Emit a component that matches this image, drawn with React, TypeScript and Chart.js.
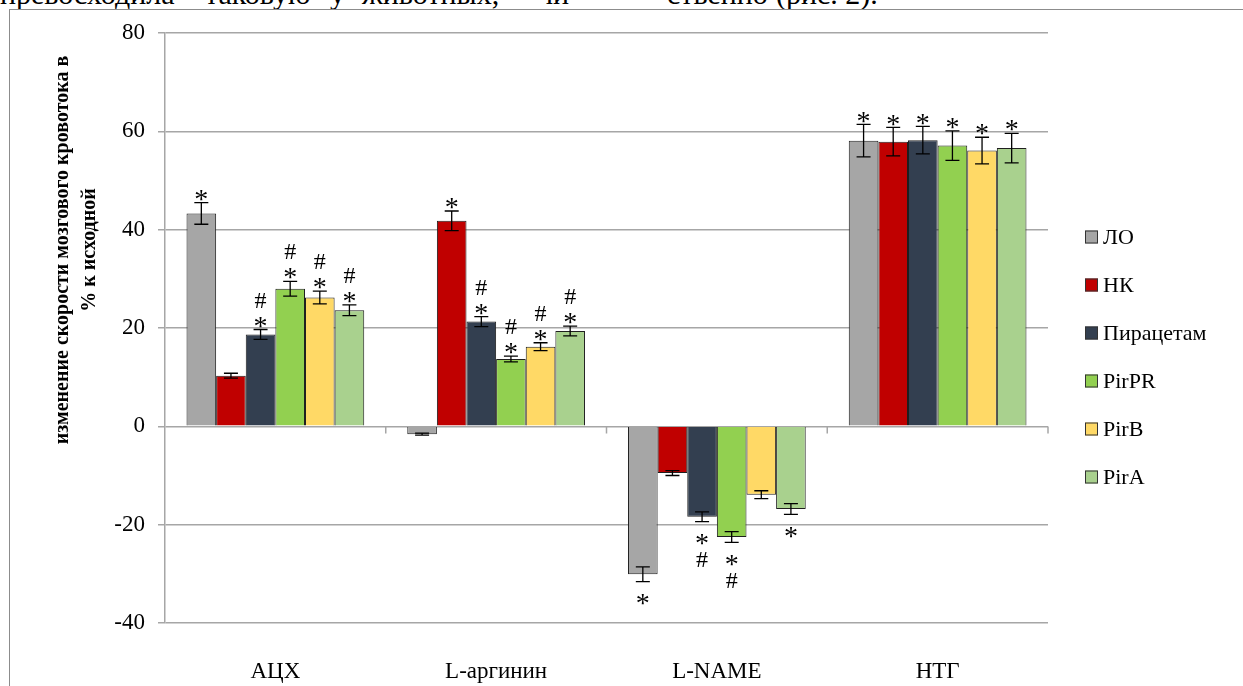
import React, { useEffect, useRef } from "react";
import { Chart, registerables } from "chart.js";
Chart.register(...registerables);

const CATEGORIES = ["АЦХ", "L-аргинин", "L-NAME", "НТГ"];
const SERIES_NAMES = ["ЛО", "НК", "Пирацетам", "PirPR", "PirB", "PirA"];
const SERIES_COLORS = ["#A6A6A6", "#C00000", "#333F50", "#92D050", "#FFD966", "#A9D18E"];

const LO = [43.3, -1.6, -30.1, 58.1];
const NK = [10.3, 41.8, -9.5, 57.9];
const PIR = [18.7, 21.3, -18.4, 58.2];
const PIRPR = [28.0, 13.7, -22.5, 57.1];
const PIRB = [26.2, 16.2, -13.9, 56.1];
const PIRA = [23.6, 19.4, -16.8, 56.6];

const LO_ERR = [2.2, 0.2, 1.5, 3.3];
const NK_ERR = [0.5, 2.0, 0.5, 2.9];
const PIR_ERR = [1.0, 1.0, 1.0, 2.8];
const PIRPR_ERR = [1.5, 0.6, 1.1, 3.0];
const PIRB_ERR = [1.3, 0.8, 0.8, 2.7];
const PIRA_ERR = [1.1, 1.0, 1.1, 3.0];

// significance marks, written top-to-bottom as they appear
const LO_MARKS = ["*", "", "*", "*"];
const NK_MARKS = ["", "*", "", "*"];
const PIR_MARKS = ["#*", "#*", "*#", "*"];
const PIRPR_MARKS = ["#*", "#*", "*#", "*"];
const PIRB_MARKS = ["#*", "#*", "", "*"];
const PIRA_MARKS = ["#*", "#*", "*", "*"];

const Y_MIN = -40;
const Y_MAX = 80;
const Y_STEP = 20;

const AXIS_TITLE = ["изменение скорости мозгового кровотока в", "% к исходной"];

const SERIES_VALUES = [LO, NK, PIR, PIRPR, PIRB, PIRA];
const SERIES_ERRORS = [LO_ERR, NK_ERR, PIR_ERR, PIRPR_ERR, PIRB_ERR, PIRA_ERR];
const SERIES_MARKS = [LO_MARKS, NK_MARKS, PIR_MARKS, PIRPR_MARKS, PIRB_MARKS, PIRA_MARKS];

const SERIF = '"Liberation Serif", "Times New Roman", serif';
const GRID = "#a6a6a6";

const overlayPlugin = {
  id: "overlay",
  afterDatasetsDraw(chart: any) {
    const ctx = chart.ctx as CanvasRenderingContext2D;
    const y = chart.scales.y;
    const area = chart.chartArea;
    ctx.save();

    // tick marks on the zero line at category boundaries
    const y0 = Math.round(y.getPixelForValue(0)) + 0.5;
    ctx.strokeStyle = GRID;
    ctx.lineWidth = 1.5;
    const n = CATEGORIES.length;
    for (let i = 1; i <= n; i++) {
      const bx = area.left + ((area.right - area.left) * i) / n;
      ctx.beginPath();
      ctx.moveTo(bx, y0);
      ctx.lineTo(bx, y0 + 7);
      ctx.stroke();
    }

    // error bars and marks
    const size = (c: string) => (c === "*" ? 28 : 24);
    const k = (c: string) => (c === "*" ? 0.47 : 0.34);
    chart.data.datasets.forEach((ds: any, di: number) => {
      const meta = chart.getDatasetMeta(di);
      meta.data.forEach((bar: any, i: number) => {
        const v = ds.data[i];
        const e = SERIES_ERRORS[di][i];
        const yt = y.getPixelForValue(v + e);
        const yb = y.getPixelForValue(v - e);
        const bx = bar.x;
        ctx.strokeStyle = "#000";
        ctx.lineWidth = 1.3;
        ctx.beginPath();
        ctx.moveTo(bx, yt);
        ctx.lineTo(bx, yb);
        ctx.moveTo(bx - 7, yt);
        ctx.lineTo(bx + 7, yt);
        ctx.moveTo(bx - 7, yb);
        ctx.lineTo(bx + 7, yb);
        ctx.stroke();

        const marks = SERIES_MARKS[di][i];
        if (!marks) return;
        ctx.fillStyle = "#000";
        ctx.textAlign = "center";
        ctx.textBaseline = "alphabetic";
        const chars = marks.split("");
        const put = (c: string, cy: number) => {
          const fs = size(c);
          ctx.font = `${fs}px ${SERIF}`;
          ctx.fillText(c, bx, cy + k(c) * fs);
        };
        if (v >= 0) {
          let cy = yt - 8;
          for (let j = chars.length - 1; j >= 0; j--) {
            put(chars[j], cy);
            cy -= 22;
          }
        } else {
          let cy = yb + 17;
          for (let j = 0; j < chars.length; j++) {
            put(chars[j], cy);
            cy += 20;
          }
        }
      });
    });

    // axis title
    ctx.fillStyle = "#000";
    ctx.font = `bold 20px ${SERIF}`;
    ctx.textAlign = "center";
    ctx.textBaseline = "middle";
    const titleX = [63, 90];
    AXIS_TITLE.forEach((t, i) => {
      ctx.save();
      ctx.translate(titleX[i], 250);
      ctx.rotate(-Math.PI / 2);
      ctx.fillText(t, 0, 0);
      ctx.restore();
    });

    // legend
    ctx.font = `22px ${SERIF}`;
    ctx.textAlign = "left";
    ctx.textBaseline = "middle";
    chart.data.datasets.forEach((ds: any, di: number) => {
      const cy = 237 + di * 48;
      ctx.fillStyle = ds.backgroundColor;
      ctx.fillRect(1085, cy - 6.5, 13, 13);
      ctx.strokeStyle = "#333";
      ctx.lineWidth = 1;
      ctx.strokeRect(1085.5, cy - 6, 12, 12);
      ctx.fillStyle = "#000";
      ctx.fillText(ds.label, 1103, cy + 1);
    });

    ctx.restore();
  },
};

export default function App() {
  const ref = useRef<HTMLCanvasElement | null>(null);

  useEffect(() => {
    if (!ref.current) return;
    const chart = new Chart(ref.current, {
      type: "bar",
      data: {
        labels: CATEGORIES,
        datasets: SERIES_NAMES.map((name, i) => ({
          label: name,
          data: SERIES_VALUES[i],
          backgroundColor: SERIES_COLORS[i],
          borderColor: "#1f1f1f",
          borderWidth: 1,
          barPercentage: 1,
          categoryPercentage: 0.805,
        })),
      },
      options: {
        animation: false,
        responsive: false,
        devicePixelRatio: 1,
        layout: { padding: { left: 0, right: 195, top: 33, bottom: 0 } },
        plugins: {
          legend: { display: false },
          tooltip: { enabled: false },
        },
        scales: {
          x: {
            grid: { display: false },
            border: { display: false },
            ticks: {
              color: "#000",
              padding: 27,
              font: { family: SERIF, size: 23 },
            },
            afterFit: (s: any) => {
              s.height = 63;
            },
          },
          y: {
            min: Y_MIN,
            max: Y_MAX,
            ticks: {
              stepSize: Y_STEP,
              color: "#000",
              padding: 13,
              font: { family: SERIF, size: 23 },
            },
            grid: { color: GRID, lineWidth: 1.5, tickLength: 7 },
            border: { display: true, color: GRID, width: 1.5 },
            afterFit: (s: any) => {
              s.width = 165;
            },
          },
        },
      },
      plugins: [overlayPlugin],
    });
    return () => chart.destroy();
  }, []);

  const topWords: [string, number][] = [
    ["превосходила", 0],
    ["таковую", 205],
    ["у", 330],
    ["животных,", 362],
    ["чи", 538],
    ["ственно", 667],
    ["(рис. 2).", 776],
  ];

  return (
    <div
      style={{
        position: "fixed",
        left: 0,
        top: 0,
        width: 1243,
        height: 686,
        overflow: "hidden",
        background: "#fff",
      }}
    >
      {topWords.map(([w, x]) => (
        <span
          key={w}
          style={{
            position: "absolute",
            left: x,
            top: -21,
            fontFamily: SERIF,
            fontSize: 30,
            lineHeight: "30px",
            whiteSpace: "pre",
            color: "#000",
          }}
        >
          {w}
        </span>
      ))}
      <div
        style={{
          position: "absolute",
          left: 9,
          top: 9,
          width: 1400,
          height: 900,
          borderLeft: "1.5px solid #8c8c8c",
          borderTop: "1.5px solid #8c8c8c",
          background: "#fff",
        }}
      />
      <canvas
        ref={ref}
        width={1243}
        height={686}
        style={{ position: "absolute", left: 0, top: 0 }}
      />
    </div>
  );
}
